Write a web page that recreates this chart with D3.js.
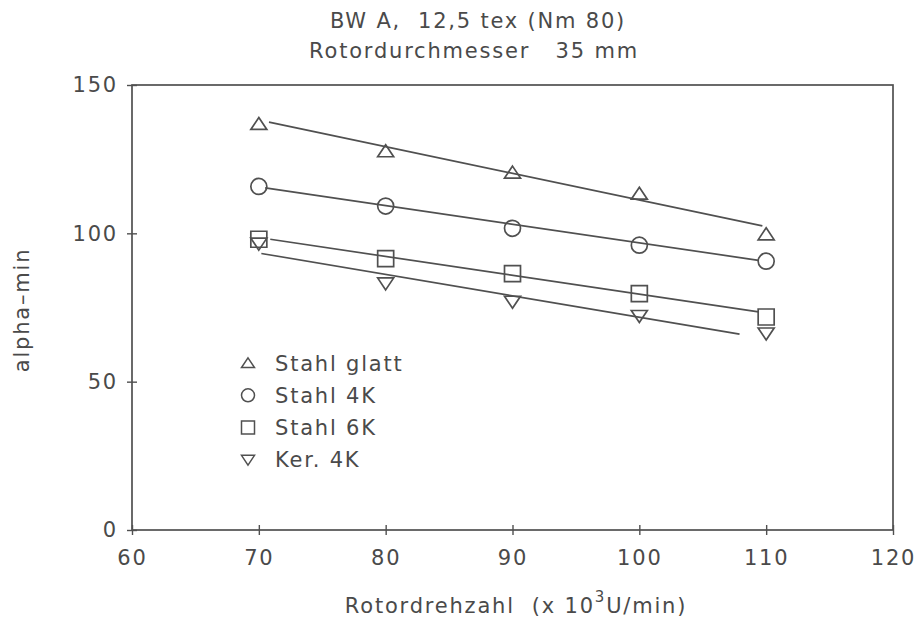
<!DOCTYPE html>
<html>
<head>
<meta charset="utf-8">
<script src="https://cdn.jsdelivr.net/npm/d3@7"></script>
<style>
  body { margin: 0; background: #fff; }
  text { font-family: "DejaVu Sans", sans-serif; fill: #4a4a4a; letter-spacing: 1.8px; }
</style>
</head>
<body>
<div id="chart"></div>
<script>
// rotor speed (x 10^3 U/min)
let speeds = [70, 80, 90, 100, 110];

// alpha-min per rotor type
let stahlGlatt = [136.9, 127.7, 120.5, 113.4, 99.7];
let stahl4K    = [115.8, 109.2, 101.7, 96.0, 90.6];
let stahl6K    = [98.0, 91.5, 86.4, 79.7, 71.8];
let ker4K      = [96.5, 83.1, 76.9, 72.1, 66.2];

// fitted lines: [x start, y start, x end, y end]
let fitGlatt = [70.8, 137.5, 109.7, 102.5];
let fit4K    = [70.5, 115.3, 109.4, 90.9];
let fit6K    = [70.9, 98.0, 109.4, 73.5];
let fitKer   = [70.2, 93.2, 107.9, 66.0];

let seriesNames = ["Stahl glatt", "Stahl 4K", "Stahl 6K", "Ker. 4K"];
let xTicks = [60, 70, 80, 90, 100, 110, 120];
let yTicks = [0, 50, 100, 150];

let series = [
    {name: seriesNames[0], values: stahlGlatt, fit: fitGlatt, shape: "up"},
    {name: seriesNames[1], values: stahl4K, fit: fit4K, shape: "circle"},
    {name: seriesNames[2], values: stahl6K, fit: fit6K, shape: "square"},
    {name: seriesNames[3], values: ker4K, fit: fitKer, shape: "down"}
];

let width = 921, height = 633;
let ink = "#505050";
let fs = 21;

let svg = d3.select("#chart").append("svg")
    .attr("width", width)
    .attr("height", height);

let x = d3.scaleLinear().domain([60, 120]).range([132, 893]);
let y = d3.scaleLinear().domain([0, 150]).range([530, 85]);

// marker path by shape, s = half size
function marker(shape, s) {
    if (shape === "up") return `M0,${-s * 0.8}L${s},${s * 0.7}L${-s},${s * 0.7}Z`;
    if (shape === "down") return `M0,${s * 0.8}L${s},${-s * 0.7}L${-s},${-s * 0.7}Z`;
    if (shape === "square") return `M${-s},${-s}H${s}V${s}H${-s}Z`;
    return d3.arc()({innerRadius: 0, outerRadius: s, startAngle: 0, endAngle: 2 * Math.PI});
}

// frame
svg.append("rect")
    .attr("x", x(60)).attr("y", y(150))
    .attr("width", x(120) - x(60)).attr("height", y(0) - y(150))
    .attr("fill", "none").attr("stroke", ink).attr("stroke-width", 1.7);

// axes with ticks crossing the frame
let xAxis = d3.axisBottom(x).tickValues(xTicks).tickSizeInner(10).tickSizeOuter(0).tickPadding(10);
let gx = svg.append("g").attr("transform", `translate(0,${y(0) - 5})`).call(xAxis);
gx.select(".domain").remove();
gx.selectAll("line").attr("stroke", ink).attr("stroke-width", 1.4);
gx.selectAll("text").attr("font-size", fs).attr("font-family", "DejaVu Sans").attr("fill", "#4a4a4a")
    .attr("dy", "0.95em");

let yAxis = d3.axisLeft(y).tickValues(yTicks).tickSizeInner(10).tickSizeOuter(0).tickPadding(9);
let gy = svg.append("g").attr("transform", `translate(${x(60) + 5},0)`).call(yAxis);
gy.select(".domain").remove();
gy.selectAll("line").attr("stroke", ink).attr("stroke-width", 1.4);
gy.selectAll("text").attr("font-size", fs).attr("font-family", "DejaVu Sans").attr("fill", "#4a4a4a");

// fit lines
svg.selectAll(".fit")
    .data(series)
    .enter().append("line")
    .attr("class", "fit")
    .attr("x1", d => x(d.fit[0])).attr("y1", d => y(d.fit[1]))
    .attr("x2", d => x(d.fit[2])).attr("y2", d => y(d.fit[3]))
    .attr("stroke", ink).attr("stroke-width", 1.7);

// markers
series.forEach(s => {
    svg.selectAll(null)
        .data(s.values)
        .enter().append("path")
        .attr("transform", (d, i) => `translate(${x(speeds[i])},${y(d)})`)
        .attr("d", marker(s.shape, 8))
        .attr("fill", "none").attr("stroke", ink).attr("stroke-width", 1.7);
});

// legend
let legend = svg.append("g").attr("transform", "translate(248,363)");
let rows = legend.selectAll("g").data(series).enter().append("g")
    .attr("transform", (d, i) => `translate(0,${i * 32.3})`);
rows.append("path")
    .attr("d", d => marker(d.shape, 6.5))
    .attr("fill", "none").attr("stroke", ink).attr("stroke-width", 1.5);
rows.append("text")
    .attr("x", 27).attr("dy", "0.36em")
    .attr("font-size", fs)
    .text(d => d.name);

// titles
svg.append("text").attr("x", 478).attr("y", 28).attr("text-anchor", "middle")
    .attr("font-size", fs).attr("xml:space", "preserve")
    .text("BW A,  12,5 tex (Nm 80)");
svg.append("text").attr("x", 474).attr("y", 58).attr("text-anchor", "middle")
    .attr("font-size", fs).attr("xml:space", "preserve")
    .text("Rotordurchmesser   35 mm");

// axis labels
svg.append("text")
    .attr("transform", "translate(29,310) rotate(-90)")
    .attr("text-anchor", "middle").attr("font-size", fs)
    .text("alpha\u2013min");

let xl = svg.append("text").attr("x", 516).attr("y", 613).attr("text-anchor", "middle")
    .attr("font-size", fs).attr("xml:space", "preserve");
xl.append("tspan").text("Rotordrehzahl  (x 10");
xl.append("tspan").attr("dy", -11).attr("font-size", 15).text("3");
xl.append("tspan").attr("dy", 11).text("U/min)");
</script>
</body>
</html>
